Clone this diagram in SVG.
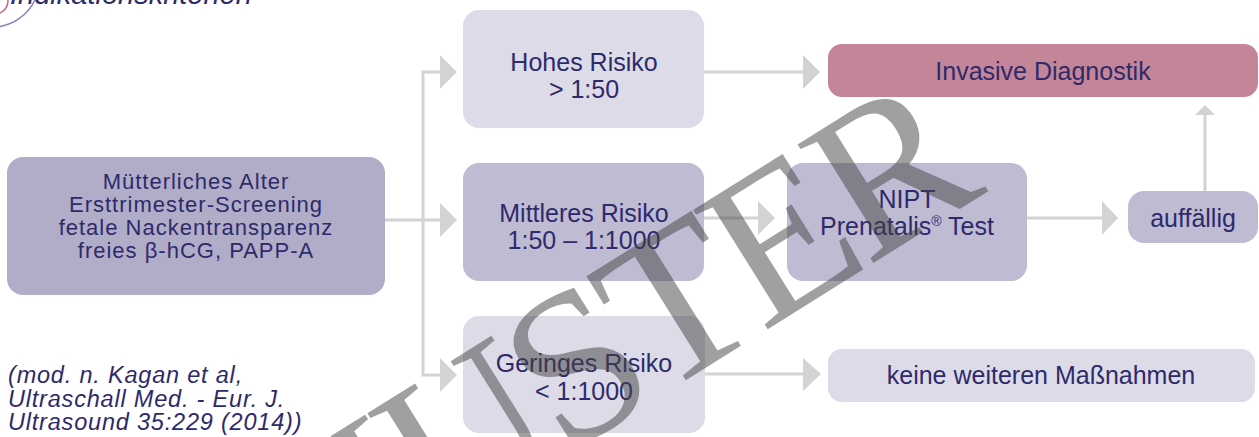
<svg xmlns="http://www.w3.org/2000/svg" width="1259" height="437" viewBox="0 0 1259 437">
<style>
text{font-family:"Liberation Sans",Arial,sans-serif;fill:#2d2a6b}
.t{font-size:25px;text-anchor:middle}
.l{font-size:22px;text-anchor:middle;letter-spacing:1px}
.c{font-size:23.5px;font-style:italic;letter-spacing:0.8px}
.dark{fill:#b1adc8}
.mid{fill:#bfbbd3}
.light{fill:#dddbe8}
.inv{fill:#c48598}
.ln{fill:none;stroke:#d3d3d3;stroke-width:3}
.ah{fill:#d3d3d3}
.wm{font-family:"Liberation Serif","Times New Roman",serif;font-size:215px;letter-spacing:-8px;fill:#444;opacity:0.5}
</style>
<g id="title">
<path d="M -4 27 A 48 48 0 0 0 35 0" fill="none" stroke="#8a80b4" stroke-width="1.5"/>
<path d="M 0 13 A 14 14 0 0 0 8 0" fill="none" stroke="#c0648f" stroke-width="1.5"/>
<text x="10" y="4" style="font-size:29px;font-style:italic">Indikationskriterien</text>
</g>
<g id="connectors">
<path class="ln" d="M385 220 H441"/>
<polygon class="ah" points="440,203 457,220 440,237"/>
<path class="ln" d="M441 72 H423 V375 H441"/>
<polygon class="ah" points="440,55 457,72 440,89"/>
<polygon class="ah" points="440,358 457,375 440,392"/>
<path class="ln" d="M703 72 H804"/>
<polygon class="ah" points="803,55 820,72 803,89"/>
<path class="ln" d="M704 218 H759"/>
<polygon class="ah" points="758,201 775,218 758,235"/>
<path class="ln" d="M1027 218 H1103"/>
<polygon class="ah" points="1102,201 1118,218 1102,235"/>
<path class="ln" d="M1205 191 V114"/>
<polygon class="ah" points="1195,115 1205,105 1215,115"/>
<path class="ln" d="M705 374 H804"/>
<polygon class="ah" points="803,358 821,374 803,391"/>
</g>
<g id="node-start">
<rect class="dark" x="7" y="157" width="378" height="138" rx="16"/>
<text class="l" x="196" y="189">Mütterliches Alter</text>
<text class="l" x="196" y="212">Ersttrimester-Screening</text>
<text class="l" x="196" y="235">fetale Nackentransparenz</text>
<text class="l" x="196" y="258">freies β-hCG, PAPP-A</text>
</g>
<g id="node-hoch">
<rect class="light" x="463" y="10" width="241" height="118" rx="16"/>
<text class="t" x="584" y="71">Hohes Risiko</text>
<text class="t" x="584" y="98">&gt; 1:50</text>
</g>
<g id="node-mittel">
<rect class="mid" x="463" y="163" width="241" height="118" rx="16"/>
<text class="t" x="584" y="222">Mittleres Risiko</text>
<text class="t" x="584" y="249">1:50 – 1:1000</text>
</g>
<g id="node-gering">
<rect class="light" x="463" y="316" width="242" height="117" rx="16"/>
<text class="t" x="584" y="372">Geringes Risiko</text>
<text class="t" x="584" y="400">&lt; 1:1000</text>
</g>
<g id="node-invasiv">
<rect class="inv" x="828" y="44" width="430" height="53" rx="14"/>
<text class="t" x="1043" y="80">Invasive Diagnostik</text>
</g>
<g id="node-nipt">
<rect class="mid" x="787" y="163" width="240" height="118" rx="16"/>
<text class="t" x="907" y="208">NIPT</text>
<text class="t" x="907" y="235">Prenatalis<tspan font-size="14" dy="-9">®</tspan><tspan dy="9"> Test</tspan></text>
</g>
<g id="node-auffaellig">
<rect class="mid" x="1128" y="191" width="130" height="52" rx="16"/>
<text class="t" x="1193" y="227">auffällig</text>
</g>
<g id="node-keine">
<rect class="light" x="828" y="349" width="427" height="53" rx="14"/>
<text class="t" x="1041" y="384">keine weiteren Maßnahmen</text>
</g>
<g id="citation">
<text class="c" x="8" y="383">(mod. n. Kagan et al,</text>
<text class="c" x="8" y="407">Ultraschall Med. - Eur. J.</text>
<text class="c" x="8" y="430">Ultrasound 35:229 (2014))</text>
</g>
<g id="watermark">
<text class="wm" x="283" y="632" transform="rotate(-32 283 632)">MUSTER</text>
</g>
</svg>
